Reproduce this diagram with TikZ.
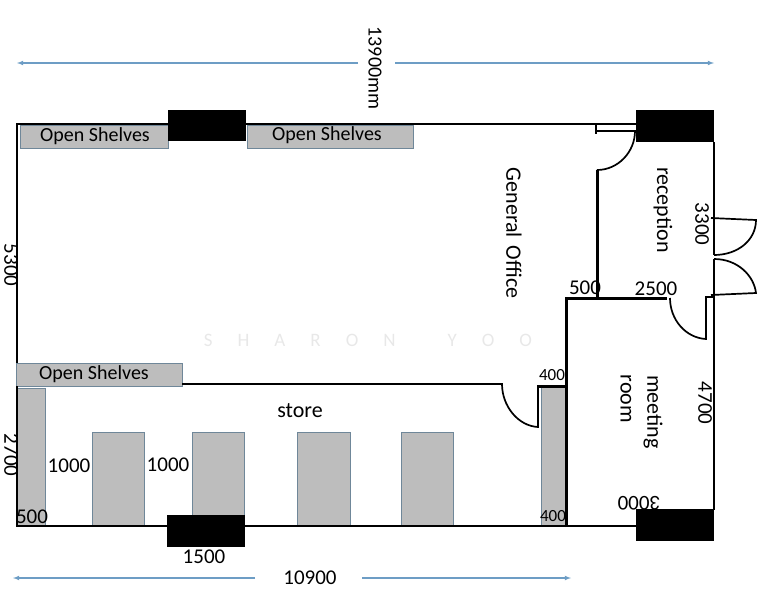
\documentclass[tikz,border=0pt]{standalone}
\usepackage{fontspec}
\setmainfont{Carlito}
\usepackage{tikz}
\definecolor{shelfgray}{HTML}{BDBDBD}
\definecolor{shelfedge}{HTML}{6F8799}
\definecolor{dimblue}{HTML}{6D9DC5}
\tikzset{
    shelf/.style={draw=shelfedge, fill=shelfgray, line width=0.8pt},
    pillar/.style={fill=black},
    wall/.style={line width=1.1pt},
    thickwall/.style={line width=3pt},
    door/.style={line width=1.7pt},
    dimline/.style={draw=dimblue, line width=1.1pt, -latex},
    shelflabel/.style={font=\fontsize{20}{20}\selectfont, inner sep=0pt},
    roomlabel/.style={font=\fontsize{22}{22}\selectfont, inner sep=0pt},
    dimlabel/.style={font=\fontsize{21}{21}\selectfont, inner sep=0pt},
    smalllabel/.style={font=\fontsize{17}{17}\selectfont, inner sep=0pt}
}

\begin{document}
\begin{tikzpicture}[x=1pt, y=-1pt]
    \useasboundingbox (0,0) rectangle (761,600);
    % Shelves
    \draw[shelf] (20,125) rectangle (168,148);
    \draw[shelf] (247,125) rectangle (413,148);
    \draw[shelf] (16,363) rectangle (182,386);
    \draw[shelf] (17,388) rectangle (45,526);
    \draw[shelf] (92,432) rectangle (144,526);
    \draw[shelf] (192,432) rectangle (244,526);
    \draw[shelf] (297,432) rectangle (350,526);
    \draw[shelf] (401,432) rectangle (453,526);
    \draw[shelf] (541,387) rectangle (566,526);
    % Outer walls
    \draw[wall] (637,124) -- (17,124) -- (17,363);
    \draw[wall] (17,386) -- (17,526) -- (637,526);
    \draw[wall] (714,142) -- (714,255);
    \draw[wall] (714,259) -- (714,510);
    % Pillars
    \fill[pillar] (168,110) rectangle (246,141);
    \fill[pillar] (636,110) rectangle (714,142);
    \fill[pillar] (167,515) rectangle (245,547);
    \fill[pillar] (636,509) rectangle (714,541);
    % Inner walls
    \draw[thickwall] (566,527) -- (566,298) -- (667,298);
    \draw[thickwall] (597,298) -- (597,170);
    \draw[line width=2.4pt] (182,384) -- (490,384);
    \draw[thickwall] (537,386) -- (566,386);
    % Doors
    \draw[door] (596,125) -- (596,134);
    \draw[door] (596,131) -- (635,131) .. controls (635,152) and (618,170) .. (597,170);
    \draw[door] (490,384) -- (502,384) .. controls (502,406) and (518,426) .. (538,427) -- (538,386);
    \draw[door] (670,298) .. controls (670,320) and (686,338) .. (706,339) -- (706,297) -- (714,297);
    \draw[door] (711,218) -- (756,220) .. controls (756,240) and (738,255) .. (714,255);
    \draw[door] (711,295) -- (756,293) .. controls (754,276) and (738,259) .. (714,259);
    % Watermark
    \node[text=black!9, font=\fontsize{19}{19}\selectfont] (mark) at (368,340) {S\hspace{25pt}H\hspace{25pt}A\hspace{25pt}R\hspace{25pt}O\hspace{25pt}N\hspace{52pt}Y\hspace{25pt}O\hspace{25pt}O};
    % Dimension lines
    \coordinate (topleft) at (17,63);
    \coordinate (topright) at (714,63);
    \coordinate (botleft) at (13,578);
    \coordinate (botright) at (571,578);
    \node[font=\fontsize{20}{20}\selectfont, inner sep=0pt, rotate=-90] (overall) at (375,68) {13900mm};
    \node[dimlabel] (store width) at (310,578) {10900};
    \draw[dimline] (358,63) -- (topleft);
    \draw[dimline] (395,63) -- (topright);
    \draw[dimline] (255,578) -- (botleft);
    \draw[dimline] (362,578) -- (botright);
    % Room and shelf labels
    \node[shelflabel] (shelves a) at (95,136) {Open Shelves};
    \node[shelflabel] (shelves b) at (327,135) {Open Shelves};
    \node[shelflabel] (shelves c) at (94,374) {Open Shelves};
    \node[roomlabel, rotate=-90] (office) at (514,233) {General\hspace{3pt} Office};
    \node[roomlabel, rotate=-90] (reception) at (663,210) {reception};
    \node[roomlabel, rotate=-90] (meeting) at (653,412) {meeting};
    \node[roomlabel, rotate=-90] (room) at (626,399) {room};
    \node[roomlabel] (store) at (300,411) {store};
    % Measurements
    \node[dimlabel, rotate=-90] (h office) at (11,265) {5300};
    \node[dimlabel, rotate=-90] (h store) at (11,455) {2700};
    \node[dimlabel, rotate=-90] (h reception) at (702,224) {3300};
    \node[dimlabel, rotate=-90] (h meeting) at (705,403) {4700};
    \node[dimlabel, rotate=180] (w meeting) at (639,503) {3000};
    \node[dimlabel] (w gap) at (585,288) {500};
    \node[dimlabel] (w reception) at (656,289) {2500};
    \node[dimlabel] (w shelf) at (32,517) {500};
    \node[dimlabel] (gap a) at (69,466) {1000};
    \node[dimlabel] (gap b) at (168,465) {1000};
    \node[dimlabel] (w pillar) at (204,557) {1500};
    \node[smalllabel] (w cab) at (552,375) {400};
    \node[smalllabel] (w cab low) at (553,516) {400};
\end{tikzpicture}
\end{document}
